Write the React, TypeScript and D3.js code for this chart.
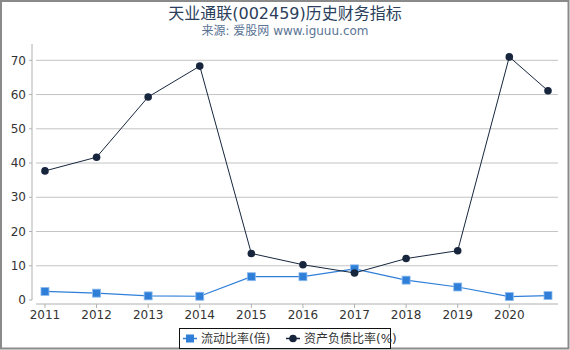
import React from "react";
import * as d3 from "d3";

const W = 570;
const H = 350;

const periods: number[] = [2011, 2012, 2013, 2014, 2015, 2016, 2017, 2018, 2019, 2020, 2020.75];
const currentRatio: number[] = [2.5, 2.0, 1.2, 1.1, 6.8, 6.8, 9.1, 5.8, 3.8, 1.0, 1.3];
const debtRatio: number[] = [37.7, 41.7, 59.3, 68.3, 13.6, 10.3, 7.9, 12.1, 14.4, 71.0, 61.1];
const xTickYears: number[] = [2011, 2012, 2013, 2014, 2015, 2016, 2017, 2018, 2019, 2020];
const yTicks: number[] = [0, 10, 20, 30, 40, 50, 60, 70];
const seriesNames: string[] = ["流动比率(倍)", "资产负债比率(%)"];
const titleText = "天业通联(002459)历史财务指标";
const subtitleText = "来源: 爱股网 www.iguuu.com";

const FONT = "'DejaVu Sans', 'Noto Sans CJK SC', sans-serif";
const BLUE = "#2f7fd9";
const NAVY = "#17263d";

export default function App() {
  const plotLeft = 36;
  const plotRight = 558;
  const x = d3.scaleLinear().domain([2010.826, 2020.944]).range([plotLeft, plotRight]);
  const y = d3.scaleLinear().domain([0, 70]).range([300, 60.3]);
  const yAxisX = 32;
  const xAxisY = 304;

  const line = d3
    .line<[number, number]>()
    .x((d) => x(d[0]))
    .y((d) => y(d[1]));

  const curPts: [number, number][] = periods.map((p, i) => [p, currentRatio[i]]);
  const debtPts: [number, number][] = periods.map((p, i) => [p, debtRatio[i]]);

  return (
    <svg
      width={W}
      height={H}
      style={{ position: "fixed", left: 0, top: 0, background: "#fff" }}
      fontFamily={FONT}
    >
      <rect x={1} y={1} width={W - 2.5} height={H - 2.5} fill="#fff" stroke="#8a8a8a" strokeWidth={2} />
      <text x={W / 2} y={19} textAnchor="middle" fontSize={16} fill="#2b3e5b">
        {titleText}
      </text>
      <text x={W / 2} y={35} textAnchor="middle" fontSize={12} fill="#5a7394">
        {subtitleText}
      </text>

      {/* gridlines */}
      {yTicks
        .filter((t) => t > 0)
        .map((t) => (
          <line key={"g" + t} x1={plotLeft} x2={plotRight} y1={y(t)} y2={y(t)} stroke="#c4c4c4" strokeWidth={1} />
        ))}

      {/* y axis */}
      <line x1={yAxisX} x2={yAxisX} y1={44} y2={y(0)} stroke="#b0b0b0" strokeWidth={1} />
      {yTicks.map((t) => (
        <g key={"y" + t}>
          <line x1={yAxisX - 3} x2={yAxisX} y1={y(t)} y2={y(t)} stroke="#b0b0b0" strokeWidth={1} />
          <text x={26} y={y(t)} dy="0.35em" textAnchor="end" fontSize={12} fill="#333">
            {t}
          </text>
        </g>
      ))}

      {/* x axis */}
      <line x1={plotLeft} x2={plotRight} y1={xAxisY} y2={xAxisY} stroke="#b0b0b0" strokeWidth={1} />
      {xTickYears.map((t) => (
        <g key={"x" + t}>
          <line x1={x(t)} x2={x(t)} y1={xAxisY} y2={xAxisY + 4} stroke="#b0b0b0" strokeWidth={1} />
          <text x={x(t)} y={319} textAnchor="middle" fontSize={12} fill="#333">
            {t}
          </text>
        </g>
      ))}

      {/* current ratio series */}
      <path d={line(curPts) || ""} fill="none" stroke={BLUE} strokeWidth={1.2} />
      {curPts.map((d, i) => (
        <rect key={"c" + i} x={x(d[0]) - 4} y={y(d[1]) - 4} width={8} height={8} fill={BLUE} stroke="#8fbcee" strokeWidth={0.8} />
      ))}

      {/* debt ratio series */}
      <path d={line(debtPts) || ""} fill="none" stroke={NAVY} strokeWidth={1} />
      {debtPts.map((d, i) => (
        <circle key={"d" + i} cx={x(d[0])} cy={y(d[1])} r={3.8} fill={NAVY} />
      ))}

      {/* legend */}
      <rect x={179.5} y={328.5} width={211} height={20} fill="#fff" stroke="#111" strokeWidth={1} />
      <line x1={183} x2={197} y1={338.5} y2={338.5} stroke={BLUE} strokeWidth={1.5} />
      <rect x={186} y={334.5} width={8} height={8} fill={BLUE} />
      <text x={201} y={343} fontSize={12} fill="#333">
        {seriesNames[0]}
      </text>
      <line x1={286} x2={300} y1={338.5} y2={338.5} stroke={NAVY} strokeWidth={1.5} />
      <circle cx={293} cy={338.5} r={3.8} fill={NAVY} />
      <text x={304} y={343} fontSize={12} fill="#333">
        {seriesNames[1]}
      </text>
    </svg>
  );
}
